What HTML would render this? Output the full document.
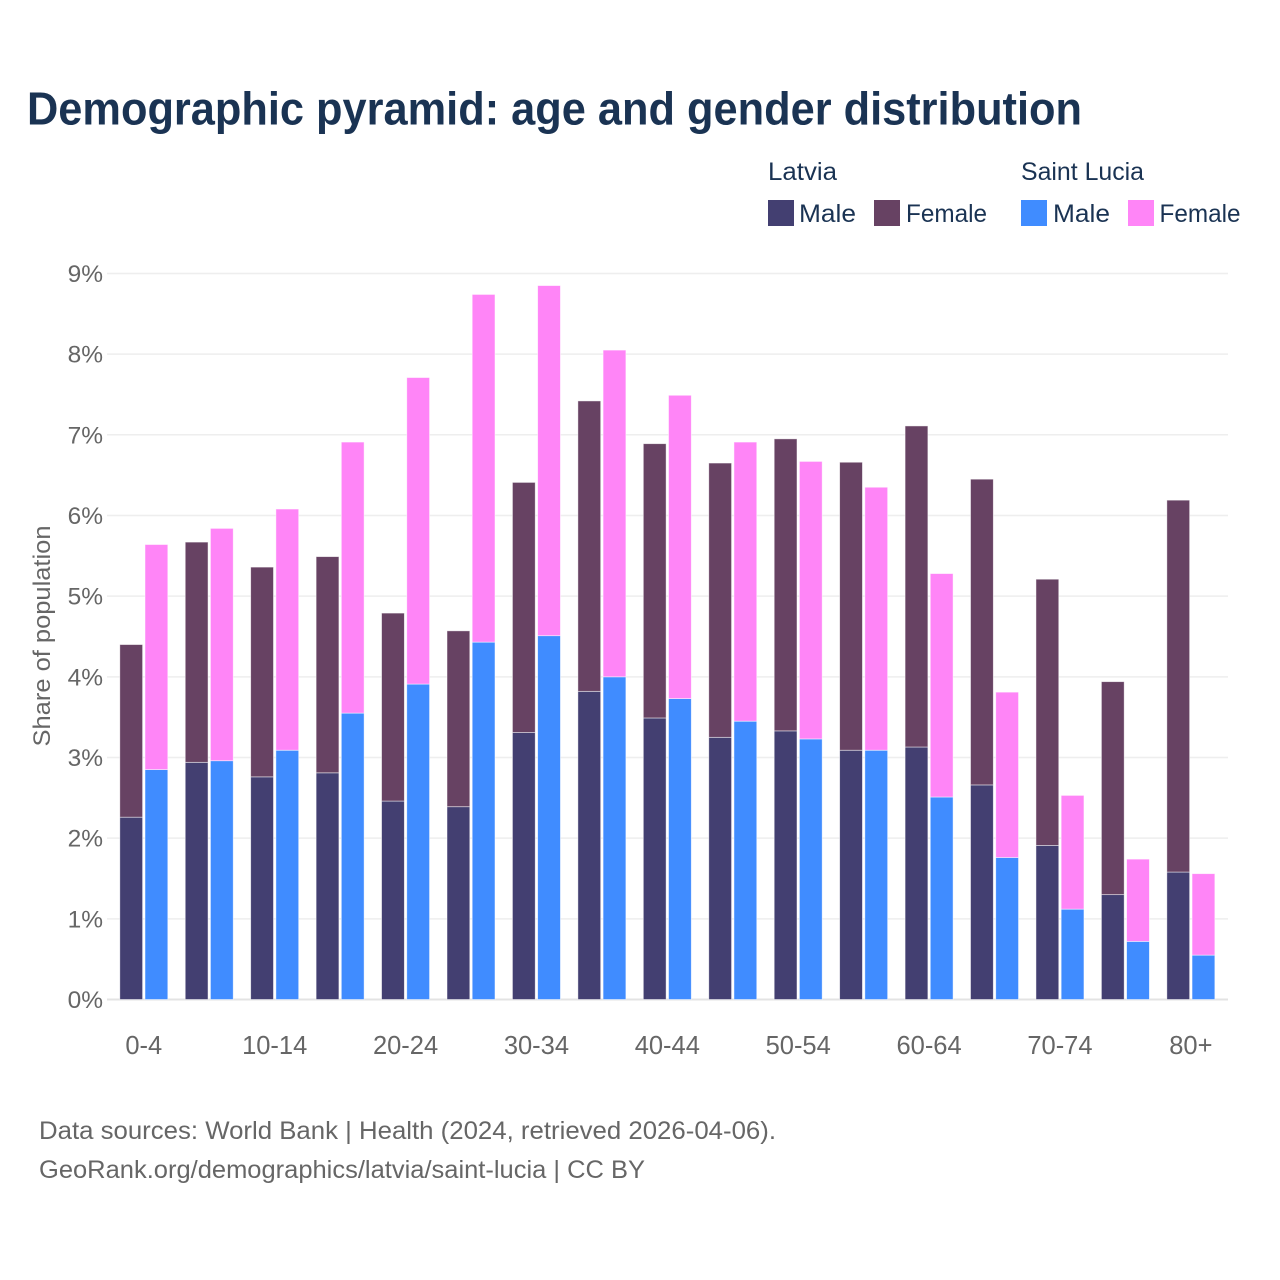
<!DOCTYPE html>
<html lang="en">
<head>
<meta charset="utf-8">
<title>Demographic pyramid: age and gender distribution</title>
<style>
html,body{margin:0;padding:0;background:#fff;}
svg{display:block;font-family:"Liberation Sans",sans-serif;}
</style>
</head>
<body>
<svg id="chart" width="1280" height="1280" viewBox="0 0 1280 1280" xmlns="http://www.w3.org/2000/svg">
<rect width="1280" height="1280" fill="#ffffff"/>
<text x="27" y="124.5" font-size="46" font-weight="700" fill="#1a3353" textLength="1055" lengthAdjust="spacingAndGlyphs">Demographic pyramid: age and gender distribution</text>
<g>
<text x="768" y="180" font-size="25" fill="#1a3353" textLength="69" lengthAdjust="spacingAndGlyphs">Latvia</text>
<text x="1021" y="180" font-size="25" fill="#1a3353" textLength="123" lengthAdjust="spacingAndGlyphs">Saint Lucia</text>
<rect x="768" y="200" width="26" height="26" fill="#433f71"/>
<text x="799" y="222" font-size="25" fill="#1a3353" textLength="57" lengthAdjust="spacingAndGlyphs">Male</text>
<rect x="874" y="200" width="26" height="26" fill="#674263"/>
<text x="906" y="222" font-size="25" fill="#1a3353" textLength="81" lengthAdjust="spacingAndGlyphs">Female</text>
<rect x="1021" y="200" width="26" height="26" fill="#408cff"/>
<text x="1053" y="222" font-size="25" fill="#1a3353" textLength="57" lengthAdjust="spacingAndGlyphs">Male</text>
<rect x="1128" y="200" width="26" height="26" fill="#ff85f7"/>
<text x="1159.5" y="222" font-size="25" fill="#1a3353" textLength="81" lengthAdjust="spacingAndGlyphs">Female</text>
</g>
<g id="grid"></g>
<g id="yticks"></g>
<g id="bars"></g>
<g id="xticks"></g>
<text transform="translate(50,636) rotate(-90)" text-anchor="middle" font-size="24" fill="#666666" textLength="221" lengthAdjust="spacingAndGlyphs">Share of population</text>
<text x="39" y="1139" font-size="25" fill="#666666" textLength="737" lengthAdjust="spacingAndGlyphs">Data sources: World Bank | Health (2024, retrieved 2026-04-06).</text>
<text x="39" y="1178" font-size="25" fill="#666666" textLength="606" lengthAdjust="spacingAndGlyphs">GeoRank.org/demographics/latvia/saint-lucia | CC BY</text>
</svg>
<script>
const categories = ["0-4","5-9","10-14","15-19","20-24","25-29","30-34","35-39","40-44","45-49","50-54","55-59","60-64","65-69","70-74","75-79","80+"];
const latviaMale = [2.26,2.94,2.76,2.81,2.46,2.39,3.31,3.82,3.49,3.25,3.33,3.09,3.13,2.66,1.91,1.30,1.58];
const latviaFemale = [2.14,2.73,2.60,2.68,2.33,2.18,3.10,3.60,3.40,3.40,3.62,3.57,3.98,3.79,3.30,2.64,4.61];
const stLuciaMale = [2.85,2.96,3.09,3.55,3.91,4.43,4.51,4.00,3.73,3.45,3.23,3.09,2.51,1.76,1.12,0.72,0.55];
const stLuciaFemale = [2.79,2.88,2.99,3.36,3.80,4.31,4.34,4.05,3.76,3.46,3.44,3.26,2.77,2.05,1.41,1.02,1.01];
const yTickValues = [0,1,2,3,4,5,6,7,8,9];

const NS = "http://www.w3.org/2000/svg";
const colors = {lm:"#433f71", lf:"#674263", sm:"#408cff", sf:"#ff85f7"};
function yScale(v){ return 999.5 - v * 80.67; }
function groupCenter(i){ return 143.8 + i * 65.44; }
const BAR_W = 22.8;
const BAR_OFFSET = 1.2;

const gridG = document.getElementById("grid");
const yG = document.getElementById("yticks");
yTickValues.forEach(function(t){
  const line = document.createElementNS(NS,"line");
  
  
  line.setAttribute("x1",107);
  line.setAttribute("x2",1228);
  line.setAttribute("y1",yScale(t));
  line.setAttribute("y2",yScale(t));
  line.setAttribute("stroke", t === 0 ? "#e3e3e3" : "#eeeeee");
  line.setAttribute("stroke-width", t === 0 ? 2 : 1.5);
  gridG.appendChild(line);
  const label = document.createElementNS(NS,"text");
  
  
  label.setAttribute("x",103);
  label.setAttribute("y",yScale(t)+8.5);
  label.setAttribute("text-anchor","end");
  label.setAttribute("font-size",24.5);
  label.setAttribute("fill","#666666");
  label.textContent = t + "%";
  yG.appendChild(label);
});

const barsG = document.getElementById("bars");
function addBar(x, base, value, fill, name){
  const r = document.createElementNS(NS,"rect");
  
  
  const top = yScale(base + value);
  r.setAttribute("x",x);
  r.setAttribute("y",top);
  r.setAttribute("width",BAR_W);
  r.setAttribute("height",yScale(base) - top);
  r.setAttribute("fill",fill);
  r.setAttribute("stroke","#ffffff");
  r.setAttribute("stroke-opacity","0.6");
  r.setAttribute("stroke-width","0.8");
  barsG.appendChild(r);
}
const xG = document.getElementById("xticks");
categories.forEach(function(c,i){
  const cx = groupCenter(i);
  const lx = cx - BAR_OFFSET - BAR_W;
  const sx = cx + BAR_OFFSET;
  addBar(lx, 0, latviaMale[i], colors.lm, "bar-latvia-male");
  addBar(lx, latviaMale[i], latviaFemale[i], colors.lf, "bar-latvia-female");
  addBar(sx, 0, stLuciaMale[i], colors.sm, "bar-saint-lucia-male");
  addBar(sx, stLuciaMale[i], stLuciaFemale[i], colors.sf, "bar-saint-lucia-female");
  if (i % 2 === 0) {
    const t = document.createElementNS(NS,"text");
    
    
    t.setAttribute("x",cx);
    t.setAttribute("y",1054);
    t.setAttribute("text-anchor","middle");
    t.setAttribute("font-size",25.5);
    t.setAttribute("fill","#666666");
    t.textContent = c;
    xG.appendChild(t);
  }
});
</script>
</body>
</html>
